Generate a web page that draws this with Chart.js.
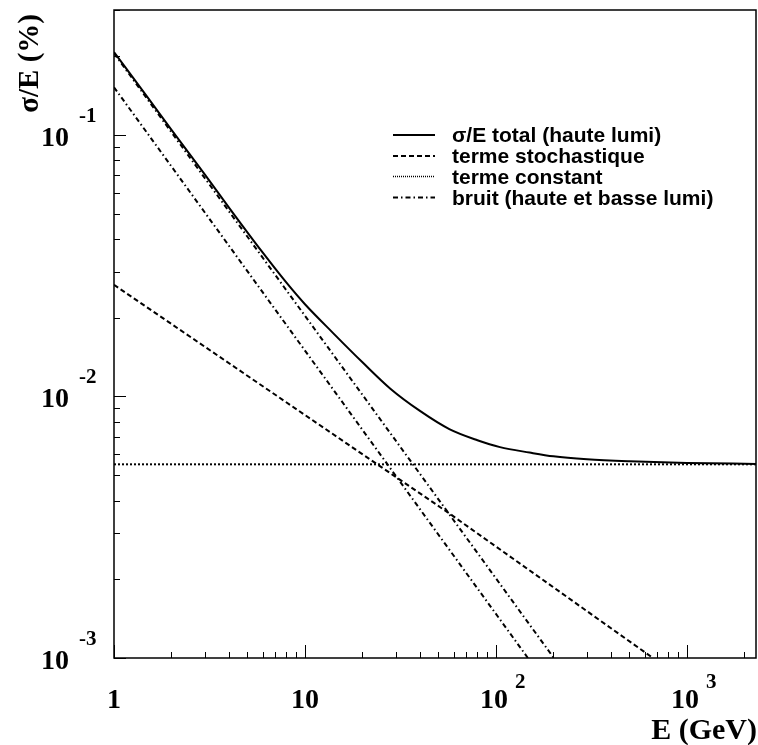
<!DOCTYPE html>
<html>
<head>
<meta charset="utf-8">
<script src="https://cdn.jsdelivr.net/npm/chart.js@4"></script>
<style>
  body { margin: 0; background: #fff; }
  #wrap { width: 758px; height: 745px; }
</style>
</head>
<body>
<div id="wrap"><canvas id="myChart"></canvas></div>
<script>
// values (E in GeV, sigma/E)
const totalE = [1, 1.5, 2, 3, 4, 6, 8, 10, 14, 20, 28, 40, 57, 80, 105, 150, 200, 300, 500, 1000, 2300];
const totalRes = [0.207, 0.139, 0.1045, 0.0703, 0.0527, 0.0355, 0.0272, 0.0225, 0.0175, 0.0135, 0.0107, 0.0088, 0.0075, 0.0068, 0.0064, 0.0061, 0.0059, 0.00575, 0.00565, 0.00557, 0.00552];

const stochE = [1, 57, 664];
const stochRes = [0.0267, 0.00357, 0.001];

const constE = [1, 2300];
const constRes = [0.0055, 0.0055];

const noiseHighE = [1, 201];
const noiseHighRes = [0.205, 0.001];
const noiseLowE = [1, 147];
const noiseLowRes = [0.152, 0.001];

const legendLabels = ['σ/E total (haute lumi)', 'terme stochastique', 'terme constant', 'bruit (haute et basse lumi)'];

const xTicks = [1, 10, 100, 1000];
const xTickBase = ['1', '10', '10', '10'];
const xTickExp = ['', '', '2', '3'];
const yTicks = [0.1, 0.01, 0.001];
const yTickExp = ['-1', '-2', '-3'];

const pts = (xs, ys) => xs.map((x, i) => ({ x: x, y: ys[i] }));

const styles = {
    total: [],
    stoch: [5, 3],
    constant: [2, 2],
    noise: [5, 3, 1.5, 3]
};

const ctx = document.getElementById('myChart');

const frame = {
    id: 'frame',
    afterDraw(chart) {
        const c = chart.ctx;
        const a = chart.chartArea;
        const xs = chart.scales.x;
        const ys = chart.scales.y;
        c.save();
        c.strokeStyle = '#000';
        c.fillStyle = '#000';
        c.lineWidth = 1.5;
        c.setLineDash([]);
        c.strokeRect(a.left, a.top, a.right - a.left, a.bottom - a.top);

        // inner ticks
        c.lineWidth = 1;
        c.beginPath();
        for (let d = 1; d <= 1000; d *= 10) {
            for (let m = 1; m <= 9; m++) {
                const v = d * m;
                if (v > xs.max) continue;
                const px = Math.round(xs.getPixelForValue(v)) + 0.5;
                const len = m === 1 ? 13 : 6;
                c.moveTo(px, a.bottom);
                c.lineTo(px, a.bottom - len);
            }
        }
        for (let d = 0.001; d <= 0.1 + 1e-9; d *= 10) {
            for (let m = 1; m <= 9; m++) {
                const v = d * m;
                if (v > ys.max + 1e-9) continue;
                const py = Math.round(ys.getPixelForValue(v)) + 0.5;
                const len = m === 1 ? 12 : 6;
                c.moveTo(a.left, py);
                c.lineTo(a.left + len, py);
            }
        }
        c.stroke();

        // tick labels
        const big = 'bold 28px "Liberation Serif", serif';
        const small = 'bold 21px "Liberation Serif", serif';
        c.textBaseline = 'alphabetic';
        xTicks.forEach((v, i) => {
            const px = xs.getPixelForValue(v);
            c.font = big;
            if (xTickExp[i]) {
                c.textAlign = 'center';
                c.fillText(xTickBase[i], px - 2, 708);
                c.font = small;
                c.textAlign = 'left';
                c.fillText(xTickExp[i], px + 19, 688);
            } else {
                c.textAlign = 'center';
                c.fillText(xTickBase[i], px, 708);
            }
        });
        yTicks.forEach((v, i) => {
            const py = ys.getPixelForValue(v);
            c.font = big;
            c.textAlign = 'right';
            c.fillText('10', 69, py + 11);
            c.font = small;
            c.textAlign = 'left';
            c.fillText(yTickExp[i], 79, py - 13);
        });

        // axis titles
        c.font = 'bold 30px "Liberation Serif", serif';
        c.textAlign = 'right';
        c.fillText('E (GeV)', 757, 739);
        c.save();
        c.translate(38, 14);
        c.rotate(-Math.PI / 2);
        c.font = 'bold 29px "Liberation Serif", serif';
        c.textAlign = 'right';
        c.fillText('σ/E (%)', 0, 0);
        c.restore();

        // legend
        const dsFor = [0, 1, 2, 3];
        const lineY = [135, 156, 176.5, 197.5];
        const textY = [142, 163, 184, 205];
        c.font = 'bold 21px "Liberation Sans", Arial, sans-serif';
        c.textAlign = 'left';
        dsFor.forEach((di, i) => {
            const ds = chart.data.datasets[di];
            c.strokeStyle = ds.borderColor;
            c.lineWidth = i === 2 ? 1.5 : 2;
            c.setLineDash(i === 2 ? [1, 1] : ds.borderDash);
            c.beginPath();
            c.moveTo(393, lineY[i]);
            c.lineTo(435, lineY[i]);
            c.stroke();
            c.fillText(legendLabels[i], 452, textY[i]);
        });
        c.restore();
    }
};

new Chart(ctx, {
    type: 'line',
    data: {
        datasets: [{
            label: legendLabels[0],
            data: pts(totalE, totalRes),
            borderColor: '#000',
            borderWidth: 2,
            borderDash: styles.total,
            cubicInterpolationMode: 'monotone',
            pointRadius: 0
        }, {
            label: legendLabels[1],
            data: pts(stochE, stochRes),
            borderColor: '#000',
            borderWidth: 2,
            borderDash: styles.stoch,
            pointRadius: 0
        }, {
            label: legendLabels[2],
            data: pts(constE, constRes),
            borderColor: '#000',
            borderWidth: 2,
            borderDash: styles.constant,
            pointRadius: 0
        }, {
            label: legendLabels[3],
            data: pts(noiseHighE, noiseHighRes),
            borderColor: '#000',
            borderWidth: 2,
            borderDash: styles.noise,
            pointRadius: 0
        }, {
            label: legendLabels[3],
            data: pts(noiseLowE, noiseLowRes),
            borderColor: '#000',
            borderWidth: 2,
            borderDash: styles.noise,
            pointRadius: 0
        }]
    },
    options: {
        responsive: true,
        maintainAspectRatio: false,
        animation: false,
        devicePixelRatio: 1,
        layout: {
            padding: { left: 114, top: 10, right: 2, bottom: 87 }
        },
        plugins: {
            legend: { display: false },
            tooltip: { enabled: false }
        },
        scales: {
            x: {
                type: 'logarithmic',
                min: 1,
                max: 2300,
                display: false
            },
            y: {
                type: 'logarithmic',
                min: 0.001,
                max: 0.3,
                display: false
            }
        }
    },
    plugins: [frame]
});
</script>
</body>
</html>
